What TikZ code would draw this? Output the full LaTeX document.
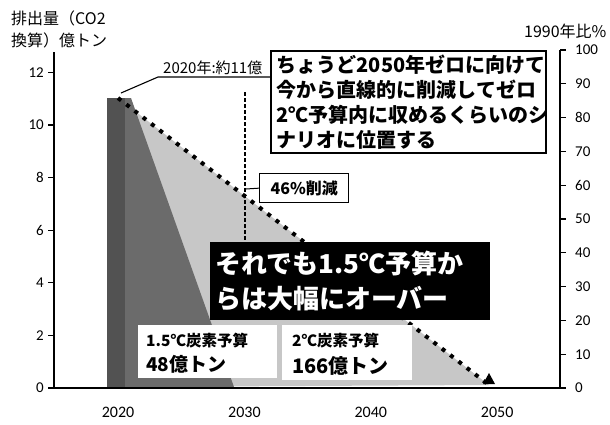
\documentclass[tikz,border=0pt]{standalone}
\usepackage{fontspec}
\setmainfont{Noto Sans CJK JP}
\newfontfamily\num{Carlito}
\begin{document}
\begin{tikzpicture}[x=1pt,y=-1pt,
  darkfill/.style={fill=black!58},
  darkbar/.style={fill=black!68},
  lightfill/.style={fill=black!22},
  axis/.style={line width=1.4pt},
  tickl/.style={line width=1.2pt},
  ticklab/.style={font=\num\fontsize{15}{15}\selectfont, inner sep=0pt},
  boxtxt/.style={draw=black, line width=1.6pt, fill=white, align=left, inner sep=0pt},
  budget/.style={fill=white, align=left, inner sep=0pt, anchor=north west},
  dots/.style={line width=4pt, dash pattern=on 4pt off 6.5pt},
  leader/.style={line width=1.1pt}
]
\useasboundingbox (0,0) rectangle (610,424);

% budget areas
\coordinate (start) at (118,98);
\coordinate (zero) at (489,385);
\fill[lightfill] (start) -- (zero) -- (118,387) -- cycle;
\fill[darkfill] (107,98) -- (131,98) -- (234,387) -- (107,387) -- cycle;
\fill[darkbar] (107,98) rectangle (125,387);

% 2030 dashed marker
\coordinate (d30top) at (245,92);
\coordinate (d30bot) at (245,244);
\draw[line width=1.2pt, dash pattern=on 4pt off 2pt] (d30top) -- (d30bot);

% linear pathway
\draw[dots] (start) -- (zero);
\fill (483,384) -- (495,384) -- (489,373) -- cycle;

% 2020 callout
\coordinate (p2020) at (121,93);
\coordinate (bend) at (158,77);
\node[font=\fontsize{15}{15}\selectfont, anchor=south west, inner sep=0pt] (lab2020) at (163,75) {2020年:約11億};

% explanation box
\node[boxtxt, anchor=north west, minimum width=275pt, minimum height=102pt, text width=263pt,
      font=\bfseries\fontsize{20}{25}\selectfont] (topbox) at (270,50)
  {ちょうど2050年ゼロに向けて\\今から直線的に削減してゼロ\\2℃予算内に収めるくらいのシ\\ナリオに位置する};
\draw[leader] (p2020) -- (bend) -- (bend -| topbox.west);

% 46% box
\node[draw=black, line width=1.3pt, fill=white, anchor=north west, minimum width=89pt, minimum height=29pt,
      inner sep=0pt, font=\bfseries\fontsize{16}{16}\selectfont] (pct) at (259,173) {46\%削減};
\coordinate (p2030) at (246,189);
\draw[line width=1pt] (p2030) -- (pct.west);

% black box
\node[fill=black, text=white, anchor=north west, minimum width=280pt, minimum height=78pt, text width=270pt,
      align=left, inner sep=0pt, font=\bfseries\fontsize{26}{35}\selectfont] (over) at (210,242)
  {それでも1.5℃予算か\\らは大幅にオーバー};

% budget boxes
\node[budget, minimum width=139pt, minimum height=53pt] (b15) at (138,325) {};
\node[anchor=west, inner sep=0pt, font=\bfseries\fontsize{15.5}{15.5}\selectfont] (b15a) at (146,341) {1.5℃炭素予算};
\node[anchor=west, inner sep=0pt, font=\bfseries\fontsize{19}{19}\selectfont] (b15b) at (146,364) {48億トン};
\node[budget, minimum width=130pt, minimum height=55pt] (b20) at (282,325) {};
\node[anchor=west, inner sep=0pt, font=\bfseries\fontsize{15.5}{15.5}\selectfont] (b20a) at (292,341) {2℃炭素予算};
\node[anchor=west, inner sep=0pt, font=\bfseries\fontsize{20}{20}\selectfont] (b20b) at (292,366) {166億トン};

% axes
\draw[axis] (54,52) -- (54,388) -- (566,388);
\draw[axis] (560,50) -- (560,388);
\foreach \v in {0,2,...,12} {
  \draw[tickl] (48,{388-26.3*\v}) -- (54,{388-26.3*\v});
  \node[ticklab, anchor=east] at (44,{388-26.3*\v}) {\v};
}
\foreach \v in {0,10,...,100} {
  \draw[tickl] (560,{388-3.38*\v}) -- (566,{388-3.38*\v});
  \node[ticklab, anchor=west] at (575,{388-3.38*\v}) {\v};
}
\foreach \y in {2020,2030,2040,2050} {
  \node[font=\num\fontsize{16}{16}\selectfont, inner sep=0pt] at ({118+12.64*(\y-2020)},412) {\y};
}

% axis titles
\node[anchor=north west, align=left, inner sep=0pt, font=\fontsize{16}{22}\selectfont] (ytitle) at (11,11)
  {排出量（CO2\\換算）億トン};
\node[anchor=west, inner sep=0pt, font=\fontsize{16}{16}\selectfont] (y2title) at (524,31) {1990年比\%};
\end{tikzpicture}
\end{document}
